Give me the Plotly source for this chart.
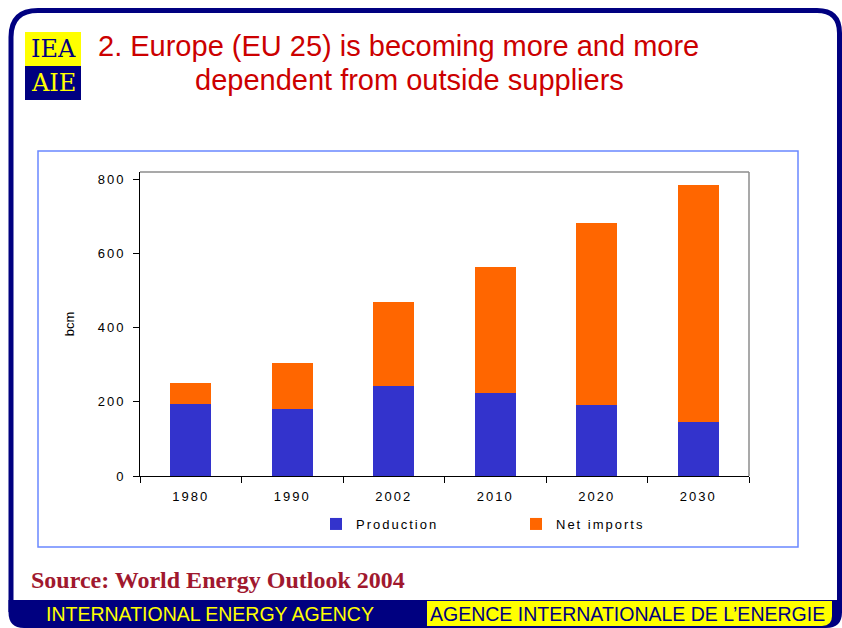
import plotly.graph_objects as go

years = ["1980", "1990", "2002", "2010", "2020", "2030"]
production = [194, 181, 244, 224, 192, 146]
net_imports = [57, 124, 226, 340, 491, 640]
y_ticks = [0, 200, 400, 600, 800]

W, H = 842, 628
L, T, R, B = 140, 172, 749, 476


def px(x):
    return (x - L) / (R - L)


def py(y):
    return (B - y) / (B - T)


def P(x, y):
    return f"{px(x):.5f},{py(y):.5f}"


NAVY = "#000080"
YELLOW = "#FFFF00"

fig = go.Figure()
fig.add_trace(go.Bar(x=years, y=production, name="Production",
                     marker=dict(color="#3333CC", line=dict(width=0))))
fig.add_trace(go.Bar(x=years, y=net_imports, name="Net imports",
                     marker=dict(color="#FF6600", line=dict(width=0))))

shapes = []
# slide border
border = (f"M{P(11,612)} L{P(11,37)} Q{P(11,10.5)} {P(38,10.5)} L{P(817,10.5)} "
          f"Q{P(839.5,10.5)} {P(839.5,33)} L{P(839.5,612)}")
shapes.append(dict(type="path", xref="paper", yref="paper", path=border,
                   line=dict(color=NAVY, width=5), layer="above"))
# footer navy
footer = (f"M{P(8.5,600)} L{P(842,600)} L{P(842,612)} Q{P(842,628)} {P(826,628)} "
          f"L{P(24,628)} Q{P(8.5,628)} {P(8.5,612)} Z")
shapes.append(dict(type="path", xref="paper", yref="paper", path=footer,
                   fillcolor=NAVY, line=dict(width=0), layer="above"))
# footer yellow
yb = (f"M{P(427,601)} L{P(832,601)} L{P(832,616)} Q{P(832,626)} {P(822,626)} "
      f"L{P(427,626)} Z")
shapes.append(dict(type="path", xref="paper", yref="paper", path=yb,
                   fillcolor=YELLOW, line=dict(width=0), layer="above"))
# chart frame
shapes.append(dict(type="rect", xref="paper", yref="paper",
                   x0=px(38), x1=px(798), y0=py(547), y1=py(151),
                   line=dict(color="#6A88FF", width=1.5), layer="below"))
# plot area gray mirror lines
shapes.append(dict(type="line", xref="paper", yref="paper", x0=0, x1=1, y0=1, y1=1,
                   line=dict(color="#8C8C8C", width=1.5)))
shapes.append(dict(type="line", xref="paper", yref="paper", x0=1, x1=1, y0=0, y1=1,
                   line=dict(color="#8C8C8C", width=1.5)))
# logo
shapes.append(dict(type="rect", xref="paper", yref="paper",
                   x0=px(25), x1=px(81), y0=py(66), y1=py(32),
                   fillcolor=YELLOW, line=dict(width=0)))
shapes.append(dict(type="rect", xref="paper", yref="paper",
                   x0=px(25), x1=px(81), y0=py(100), y1=py(66),
                   fillcolor=NAVY, line=dict(width=0)))

annotations = [
    dict(text="IEA", x=px(53), y=py(49), font=dict(family="DejaVu Serif", size=24, color=NAVY)),
    dict(text="AIE", x=px(53), y=py(83), font=dict(family="DejaVu Serif", size=24, color=YELLOW)),
    dict(text="2. Europe (EU 25) is becoming more and more", x=px(398.5), y=py(46),
         font=dict(family="Liberation Sans, Arial", size=29, color="#CC0000")),
    dict(text="dependent from outside suppliers", x=px(409.5), y=py(80),
         font=dict(family="Liberation Sans, Arial", size=29, color="#CC0000")),
    dict(text="<b>Source: World Energy Outlook 2004</b>", x=px(29), y=py(580), xanchor="left",
         font=dict(family="Liberation Serif, Times New Roman", size=24, color="#A0182E")),
    dict(text="INTERNATIONAL ENERGY AGENCY", x=px(210), y=py(614),
         font=dict(family="Liberation Sans, Arial", size=19.5, color=YELLOW)),
    dict(text="AGENCE INTERNATIONALE DE L\u2019ENERGIE", x=px(627), y=py(614),
         font=dict(family="Liberation Sans, Arial", size=19.5, color=NAVY)),
]
for a in annotations:
    a.setdefault("xanchor", "center")
    a.update(xref="paper", yref="paper", yanchor="middle", showarrow=False)

fig.update_layout(
    width=W, height=H,
    margin=dict(l=L, r=W - R, t=T, b=H - B, pad=0),
    paper_bgcolor="white", plot_bgcolor="white",
    barmode="stack", bargap=0.6,
    font=dict(family="Liberation Sans, Arial", size=13, color="black"),
    showlegend=True,
    legend=dict(orientation="h", x=px(316), y=py(524), xanchor="left", yanchor="middle",
                entrywidth=155, font=dict(size=13), bgcolor="rgba(0,0,0,0)",
                traceorder="normal"),
    shapes=shapes, annotations=annotations,
)
fig.update_xaxes(type="category", tickson="boundaries", ticks="outside", ticklen=6,
                 tickcolor="black", showline=True, linecolor="black", linewidth=1,
                 showgrid=False, ticklabelstandoff=8, tickfont=dict(size=13))
fig.update_yaxes(range=[0, 820], tickvals=y_ticks, ticks="outside", ticklen=6,
                 tickcolor="black", showline=True, linecolor="black", linewidth=1,
                 showgrid=False, zeroline=False, ticklabelstandoff=5,
                 tickfont=dict(size=13),
                 title=dict(text="bcm", standoff=26, font=dict(size=13)))

post = ("document.body.style.margin='0';"
        "document.querySelectorAll('.xtick text, .ytick text, .legendtext')"
        ".forEach(function(e){e.style.letterSpacing='2px';});")
fig.write_html("out.html", post_script=post, config={"displayModeBar": False})
